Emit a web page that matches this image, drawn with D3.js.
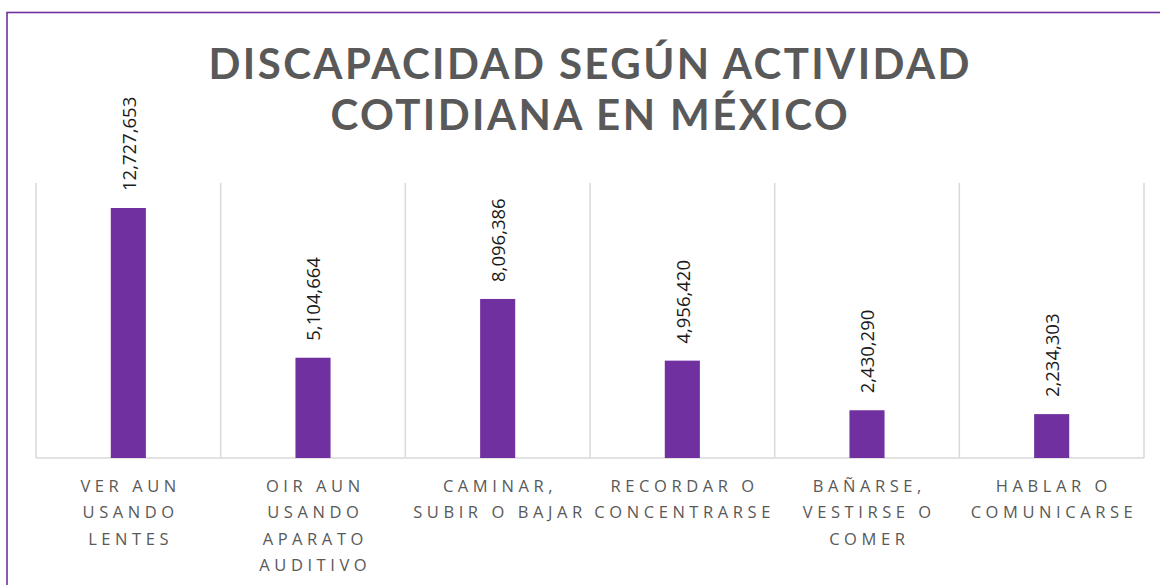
<!DOCTYPE html>
<html>
<head>
<meta charset="utf-8">
<script src="https://cdn.jsdelivr.net/npm/d3@7"></script>
<style>
  html, body { margin: 0; padding: 0; background: #fff; }
  svg { display: block; }
</style>
</head>
<body>
<svg id="chart" width="1160" height="585"></svg>
<script>
// ---- data ----
const categories = [
  "VER AUN USANDO LENTES",
  "OIR AUN USANDO APARATO AUDITIVO",
  "CAMINAR, SUBIR O BAJAR",
  "RECORDAR O CONCENTRARSE",
  "BAÑARSE, VESTIRSE O COMER",
  "HABLAR O COMUNICARSE"
];
const categoryLines = [
  ["VER AUN", "USANDO", "LENTES"],
  ["OIR AUN", "USANDO", "APARATO", "AUDITIVO"],
  ["CAMINAR,", "SUBIR O BAJAR"],
  ["RECORDAR O", "CONCENTRARSE"],
  ["BAÑARSE,", "VESTIRSE O", "COMER"],
  ["HABLAR O", "COMUNICARSE"]
];
const values = [12727653, 5104664, 8096386, 4956420, 2430290, 2234303];
const titleLines = ["DISCAPACIDAD SEGÚN ACTIVIDAD", "COTIDIANA EN MÉXICO"];
const yMax = 14000000;

// ---- layout ----
const svg = d3.select("#chart");
const plot = { left: 36, right: 1144, top: 183, bottom: 458 };
const purple = "#7030A0";
const gray = "#595959";
const gridColor = "#d9d9d9";

// chart border
svg.append("rect")
  .attr("x", 7).attr("y", 12.5)
  .attr("width", 1170).attr("height", 600)
  .attr("fill", "none").attr("stroke", purple).attr("stroke-width", 1.6);

const x = d3.scaleBand().domain(categories).range([plot.left, plot.right]).padding(0);
const y = d3.scaleLinear().domain([0, yMax]).range([plot.bottom, plot.top]);
const barW = x.bandwidth() * 0.19;

// vertical gridlines (category boundaries)
const bounds = categories.map(c => x(c)).concat([plot.right]);
svg.append("g").selectAll("line").data(bounds).join("line")
  .attr("x1", d => d).attr("x2", d => d)
  .attr("y1", plot.top).attr("y2", plot.bottom)
  .attr("stroke", gridColor).attr("stroke-width", 1.5);

// baseline
svg.append("line")
  .attr("x1", plot.left).attr("x2", plot.right)
  .attr("y1", plot.bottom).attr("y2", plot.bottom)
  .attr("stroke", gridColor).attr("stroke-width", 1.5);

// bars
svg.append("g").selectAll("rect").data(values).join("rect")
  .attr("x", (d, i) => x(categories[i]) + x.bandwidth() / 2 - barW / 2)
  .attr("y", d => y(d))
  .attr("width", barW)
  .attr("height", d => plot.bottom - y(d))
  .attr("fill", purple);

// value labels (rotated)
const fmt = d3.format(",");
svg.append("g").selectAll("text").data(values).join("text")
  .attr("transform", (d, i) => `translate(${x(categories[i]) + x.bandwidth() / 2 + 1},${y(d) - 17}) rotate(-90)`)
  .attr("dy", "0.35em")
  .attr("text-anchor", "start")
  .attr("font-family", "'Open Sans', sans-serif")
  .attr("font-size", 18.5)
  .attr("fill", "#1a1a1a")
  .text(d => fmt(d));

// category labels
const catFont = 16.5;
const catG = svg.append("g")
  .attr("font-family", "'Open Sans', sans-serif")
  .attr("font-size", catFont)
  .attr("fill", gray);
// letter spacing so that "CONCENTRARSE" spans ~176px
const probe = catG.append("text").text("CONCENTRARSE");
const natW = probe.node().getComputedTextLength();
probe.remove();
const catLS = (176 - natW) / 11;
categoryLines.forEach((lines, i) => {
  const cx = x(categories[i]) + x.bandwidth() / 2;
  lines.forEach((ln, j) => {
    catG.append("text")
      .attr("x", cx + catLS / 2)
      .attr("y", 492 + j * 26.3)
      .attr("text-anchor", "middle")
      .attr("letter-spacing", catLS)
      .text(ln);
  });
});

// title
const titleG = svg.append("g")
  .attr("font-family", "Lato, 'Open Sans', sans-serif")
  .attr("font-weight", "bold")
  .attr("font-size", 42)
  .attr("fill", gray);
const probeT = titleG.append("text").text(titleLines[0]);
const natT = probeT.node().getComputedTextLength();
probeT.remove();
const titleLS = (761 - natT) / (titleLines[0].length - 1);
titleLines.forEach((ln, j) => {
  titleG.append("text")
    .attr("x", 589 + titleLS / 2)
    .attr("y", 79 + j * 51)
    .attr("text-anchor", "middle")
    .attr("letter-spacing", titleLS)
    .text(ln);
});
</script>
</body>
</html>
